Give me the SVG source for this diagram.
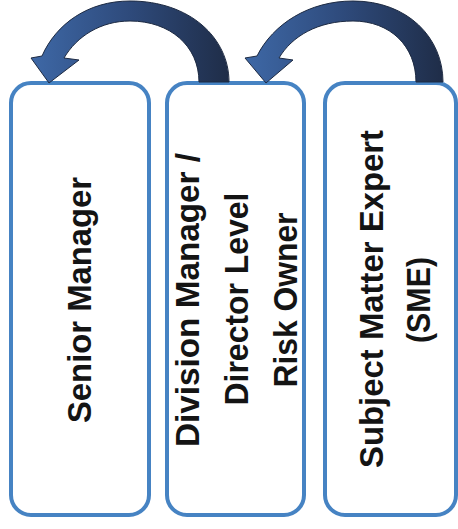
<svg xmlns="http://www.w3.org/2000/svg" width="458" height="529" viewBox="0 0 458 529">
<defs>
<linearGradient id="arrowGrad" x1="0" y1="0" x2="1" y2="0">
<stop offset="0" stop-color="#3e68a6"/>
<stop offset="0.5" stop-color="#2e4a7b"/>
<stop offset="1" stop-color="#1f2d48"/>
</linearGradient>
<style>
.box{fill:#ffffff;stroke:#4683c3;stroke-width:4}
.lbl{font-family:"Liberation Sans",Arial,sans-serif;font-weight:bold;font-size:34px;fill:#141414;text-anchor:middle}
.arrow{fill:url(#arrowGrad);stroke:#1d2a42;stroke-width:1;stroke-linejoin:round}
</style>
</defs>
<rect width="458" height="529" fill="#ffffff"/>
<g id="senior-manager">
<rect class="box" x="11" y="83" width="138" height="432" rx="20"/>
<text class="lbl" transform="translate(91,300) rotate(-90)" textLength="246" lengthAdjust="spacingAndGlyphs">Senior Manager</text>
</g>
<g id="division-manager">
<rect class="box" x="167" y="83" width="137" height="432" rx="20"/>
<text class="lbl" transform="translate(199,300) rotate(-90)" textLength="294" lengthAdjust="spacingAndGlyphs">Division Manager /</text>
<text class="lbl" transform="translate(248,299) rotate(-90)" textLength="213" lengthAdjust="spacingAndGlyphs">Director Level</text>
<text class="lbl" transform="translate(297,300) rotate(-90)" textLength="175" lengthAdjust="spacingAndGlyphs">Risk Owner</text>
</g>
<g id="sme">
<rect class="box" x="325" y="83" width="131" height="432" rx="20"/>
<text class="lbl" transform="translate(383,299) rotate(-90)" textLength="338" lengthAdjust="spacingAndGlyphs">Subject Matter Expert</text>
<text class="lbl" transform="translate(430,300) rotate(-90)" textLength="86" lengthAdjust="spacingAndGlyphs">(SME)</text>
</g>
<g id="connectors">
<path class="arrow" d="M 229,82 C 229,38 190,1 130,1 C 88,1 56,24 42,56 L 31,58 L 49,83 L 79,60 L 64,58 C 77,36 101,21 130,21 C 170,21 199,46 199,82 Z"/>
<path class="arrow" d="M 443,82 C 443,38 408,1 353,1 C 309,1 273,24 257,56 L 245,58 L 266,83 L 293,60 L 279,58 C 292,36 318,21 353,21 C 390,21 416,46 416,82 Z"/>
</g>
</svg>
